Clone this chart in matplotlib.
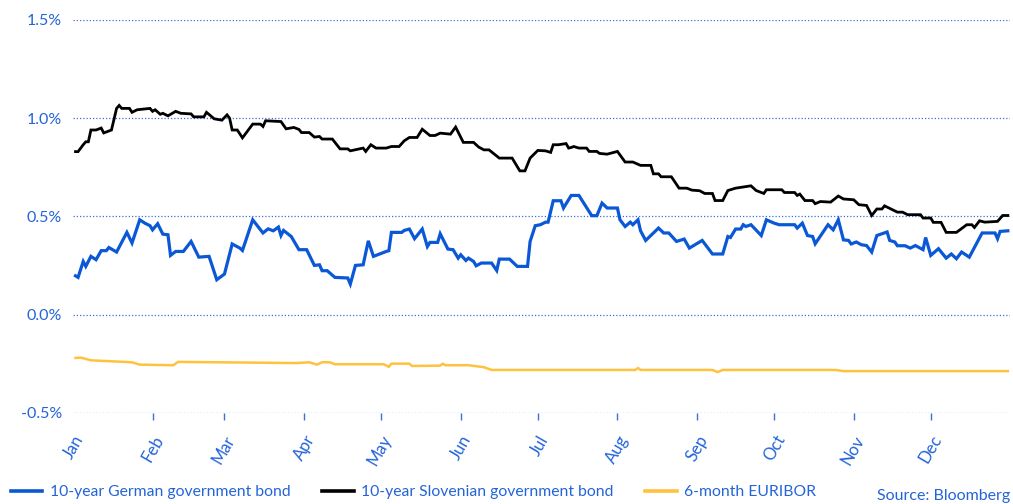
import matplotlib
matplotlib.use("Agg")
import matplotlib.pyplot as plt
import pandas as pd

YEAR = "2017"

# 10-year Slovenian government bond yield (%)
slo_dates = [
    "01-02", "01-03", "01-05", "01-06", "01-07", "01-08", "01-10", "01-12", "01-13", "01-16",
    "01-18", "01-19", "01-20", "01-23", "01-24", "01-26", "01-31", "02-01", "02-02", "02-04",
    "02-05", "02-07", "02-10", "02-12", "02-16", "02-17", "02-21", "02-22", "02-25", "02-28",
    "03-02", "03-03", "03-04", "03-06", "03-08", "03-12", "03-15", "03-16", "03-17", "03-23",
    "03-25", "03-28", "03-30", "03-31", "04-03", "04-05", "04-07", "04-08", "04-12", "04-15",
    "04-18", "04-19", "04-24", "04-25", "04-27", "04-29", "05-03", "05-05", "05-08", "05-10",
    "05-12", "05-15", "05-17", "05-20", "05-22", "05-24", "05-28", "05-30", "06-02", "06-06",
    "06-08", "06-10", "06-12", "06-16", "06-21", "06-24", "06-26", "06-28", "07-01", "07-04",
    "07-06", "07-07", "07-09", "07-12", "07-13", "07-14", "07-15", "07-17", "07-20", "07-21",
    "07-24", "07-25", "07-28", "08-01", "08-04", "08-07", "08-10", "08-14", "08-15", "08-17",
    "08-18", "08-22", "08-25", "08-28", "08-30", "09-02", "09-04", "09-07", "09-08", "09-11",
    "09-13", "09-16", "09-19", "09-22", "09-24", "09-27", "09-28", "10-04", "10-05", "10-09",
    "10-10", "10-11", "10-13", "10-16", "10-17", "10-19", "10-23", "10-26", "10-28", "11-01",
    "11-03", "11-06", "11-08", "11-10", "11-12", "11-13", "11-18", "11-20", "11-22", "11-27",
    "11-28", "12-01", "12-02", "12-05", "12-07", "12-11", "12-15", "12-17", "12-18", "12-20",
    "12-22", "12-27", "12-29", "12-31",
]
slo_values = [
    0.830, 0.830, 0.865, 0.880, 0.880, 0.940, 0.940, 0.950, 0.925, 0.940,
    1.050, 1.065, 1.050, 1.050, 1.030, 1.043, 1.050, 1.035, 1.043, 1.020,
    1.025, 1.012, 1.035, 1.025, 1.022, 1.007, 1.007, 1.030, 0.997, 0.990,
    1.017, 1.000, 0.940, 0.940, 0.900, 0.970, 0.970, 0.958, 0.987, 0.983,
    0.946, 0.953, 0.943, 0.927, 0.927, 0.904, 0.907, 0.894, 0.894, 0.844,
    0.844, 0.834, 0.848, 0.831, 0.865, 0.848, 0.848, 0.856, 0.856, 0.885,
    0.902, 0.902, 0.944, 0.912, 0.912, 0.924, 0.919, 0.955, 0.877, 0.877,
    0.853, 0.839, 0.839, 0.797, 0.797, 0.732, 0.732, 0.797, 0.836, 0.834,
    0.826, 0.865, 0.865, 0.871, 0.848, 0.851, 0.856, 0.848, 0.848, 0.831,
    0.831, 0.821, 0.817, 0.831, 0.777, 0.777, 0.760, 0.760, 0.717, 0.717,
    0.702, 0.702, 0.644, 0.644, 0.634, 0.631, 0.617, 0.617, 0.581, 0.581,
    0.632, 0.644, 0.650, 0.656, 0.632, 0.617, 0.636, 0.636, 0.622, 0.622,
    0.607, 0.614, 0.581, 0.581, 0.565, 0.576, 0.573, 0.604, 0.589, 0.585,
    0.560, 0.556, 0.505, 0.538, 0.538, 0.554, 0.522, 0.522, 0.509, 0.509,
    0.492, 0.492, 0.470, 0.470, 0.419, 0.419, 0.458, 0.458, 0.444, 0.478,
    0.471, 0.475, 0.505, 0.505,
]

# 10-year German government bond yield (%)
ger_dates = [
    "01-02", "01-03", "01-05", "01-06", "01-08", "01-10", "01-12", "01-14", "01-15", "01-18",
    "01-22", "01-24", "01-27", "01-29", "01-31", "02-01", "02-03", "02-05", "02-07", "02-08",
    "02-10", "02-13", "02-16", "02-19", "02-23", "02-26", "03-01", "03-04", "03-07", "03-08",
    "03-12", "03-16", "03-18", "03-20", "03-22", "03-23", "03-24", "03-27", "03-30", "04-02",
    "04-05", "04-07", "04-08", "04-10", "04-13", "04-18", "04-19", "04-21", "04-24", "04-26",
    "04-28", "05-03", "05-04", "05-05", "05-09", "05-10", "05-12", "05-14", "05-17", "05-19",
    "05-20", "05-23", "05-24", "05-27", "05-29", "05-31", "06-01", "06-03", "06-04", "06-06",
    "06-07", "06-09", "06-13", "06-15", "06-16", "06-20", "06-23", "06-27", "06-28", "06-30",
    "07-02", "07-04", "07-05", "07-07", "07-10", "07-11", "07-14", "07-17", "07-22", "07-24",
    "07-26", "07-28", "08-01", "08-02", "08-04", "08-06", "08-07", "08-09", "08-10", "08-12",
    "08-17", "08-19", "08-21", "08-24", "08-27", "08-29", "09-03", "09-07", "09-11", "09-13",
    "09-14", "09-16", "09-18", "09-19", "09-20", "09-22", "09-26", "09-28", "10-01", "10-03",
    "10-09", "10-10", "10-12", "10-14", "10-16", "10-17", "10-22", "10-24", "10-26", "10-28",
    "10-30", "10-31", "11-02", "11-04", "11-06", "11-08", "11-10", "11-14", "11-15", "11-17",
    "11-18", "11-21", "11-23", "11-25", "11-28", "11-29", "12-01", "12-04", "12-07", "12-09",
    "12-11", "12-13", "12-16", "12-21", "12-26", "12-27", "12-28", "12-31",
]
ger_values = [
    0.198, 0.190, 0.271, 0.246, 0.297, 0.280, 0.326, 0.326, 0.342, 0.319,
    0.419, 0.365, 0.483, 0.466, 0.453, 0.432, 0.463, 0.410, 0.407, 0.302,
    0.322, 0.322, 0.373, 0.293, 0.297, 0.178, 0.207, 0.360, 0.339, 0.327,
    0.483, 0.416, 0.437, 0.427, 0.446, 0.403, 0.429, 0.398, 0.331, 0.331,
    0.251, 0.254, 0.224, 0.224, 0.190, 0.187, 0.156, 0.251, 0.254, 0.376,
    0.297, 0.322, 0.326, 0.419, 0.419, 0.429, 0.436, 0.387, 0.436, 0.347,
    0.368, 0.368, 0.412, 0.334, 0.331, 0.288, 0.305, 0.276, 0.288, 0.271,
    0.249, 0.263, 0.263, 0.225, 0.283, 0.283, 0.246, 0.246, 0.373, 0.453,
    0.458, 0.471, 0.471, 0.580, 0.580, 0.543, 0.607, 0.607, 0.504, 0.504,
    0.568, 0.543, 0.543, 0.483, 0.449, 0.471, 0.458, 0.483, 0.427, 0.378,
    0.441, 0.416, 0.416, 0.373, 0.385, 0.339, 0.378, 0.309, 0.309, 0.398,
    0.393, 0.436, 0.436, 0.458, 0.449, 0.458, 0.403, 0.483, 0.466, 0.458,
    0.458, 0.441, 0.466, 0.403, 0.398, 0.361, 0.458, 0.432, 0.483, 0.381,
    0.378, 0.360, 0.370, 0.356, 0.352, 0.319, 0.403, 0.421, 0.378, 0.370,
    0.351, 0.351, 0.339, 0.352, 0.331, 0.393, 0.302, 0.336, 0.288, 0.309,
    0.285, 0.319, 0.293, 0.416, 0.416, 0.387, 0.424, 0.427,
]

# 6-month EURIBOR (%)
eur_dates = [
    "01-02", "01-04", "01-08", "01-24", "01-27", "02-09", "02-11", "03-29", "04-03", "04-06",
    "04-08", "04-11", "04-13", "05-02", "05-04", "05-05", "05-12", "05-13", "05-24", "05-25",
    "05-26", "06-04", "06-10", "06-13", "08-08", "08-09", "08-10", "09-07", "09-09", "09-11",
    "10-25", "10-28", "12-31",
]
eur_values = [
    -0.220, -0.218, -0.232, -0.242, -0.254, -0.257, -0.240, -0.246, -0.242, -0.254,
    -0.242, -0.242, -0.252, -0.252, -0.265, -0.249, -0.249, -0.261, -0.259, -0.249,
    -0.257, -0.257, -0.267, -0.281, -0.281, -0.271, -0.281, -0.281, -0.292, -0.281,
    -0.281, -0.287, -0.287,
]

series_labels = [
    "10-year German government bond",
    "10-year Slovenian government bond",
    "6-month EURIBOR",
]
y_ticks = [-0.5, 0.0, 0.5, 1.0, 1.5]
month_labels = ["Jan", "Feb", "Mar", "Apr", "May", "Jun",
                "Jul", "Aug", "Sep", "Oct", "Nov", "Dec"]
source_text = "Source: Bloomberg"

BLUE_TEXT = "#2364d8"
BLUE_LINE = "#0a58d6"
BLACK_LINE = "#000000"
YELLOW_LINE = "#ffc23f"
GRID = "#3a70d8"

plt.rcParams["font.family"] = ["Lato", "DejaVu Sans"]


def to_dates(md_list):
    return pd.to_datetime([f"{YEAR}-{md}" for md in md_list])


fig = plt.figure(figsize=(10.13, 5.04), dpi=100)
ax = fig.add_axes([0.072, 0.1806, 0.925, 0.7798])

ax.plot(to_dates(ger_dates), ger_values, color=BLUE_LINE, lw=2.3,
        solid_joinstyle="miter", label=series_labels[0], zorder=3)
ax.plot(to_dates(slo_dates), slo_values, color=BLACK_LINE, lw=2.0,
        solid_joinstyle="miter", label=series_labels[1], zorder=4)
ax.plot(to_dates(eur_dates), eur_values, color=YELLOW_LINE, lw=1.8,
        label=series_labels[2], zorder=3)

ax.set_ylim(-0.5, 1.5)
ax.set_xlim(pd.Timestamp(f"{YEAR}-01-01"), pd.Timestamp(f"{YEAR}-12-31 20:00"))

ax.set_yticks(y_ticks)
ax.set_yticklabels([f"{v:.1f}%" for v in y_ticks])
ax.yaxis.grid(True, color=GRID, linestyle=(0, (1, 1.6)), linewidth=0.9)
ax.set_axisbelow(True)

month_starts = pd.date_range(f"{YEAR}-01-01", periods=12, freq="MS")
ax.set_xticks(month_starts)
ax.set_xticklabels(month_labels, rotation=60, ha="right",
                   rotation_mode="anchor")

for s in ax.spines.values():
    s.set_visible(False)

ax.tick_params(axis="y", length=0, colors=BLUE_TEXT, labelsize=11.5, pad=8)
ax.tick_params(axis="x", length=5, width=1, color=GRID, colors=BLUE_TEXT,
               labelsize=12, pad=9)
for lbl in ax.get_xticklabels():
    lbl.set_color(BLUE_TEXT)
ax.xaxis.get_major_ticks()[0].tick1line.set_visible(False)

handles, labels = ax.get_legend_handles_labels()
leg = fig.legend(handles, labels, loc="lower left", bbox_to_anchor=(0.0, -0.012),
                 ncol=3, frameon=False, fontsize=11.3, handlelength=2.0,
                 handletextpad=0.5, columnspacing=2.0, labelcolor=BLUE_TEXT,
                 borderaxespad=0.3)
for line in leg.get_lines():
    line.set_linewidth(2.6)

fig.text(0.997, 0.002, source_text, ha="right", va="bottom",
         color=BLUE_TEXT, fontsize=11.5)

fig.savefig("out.png", dpi=100)
